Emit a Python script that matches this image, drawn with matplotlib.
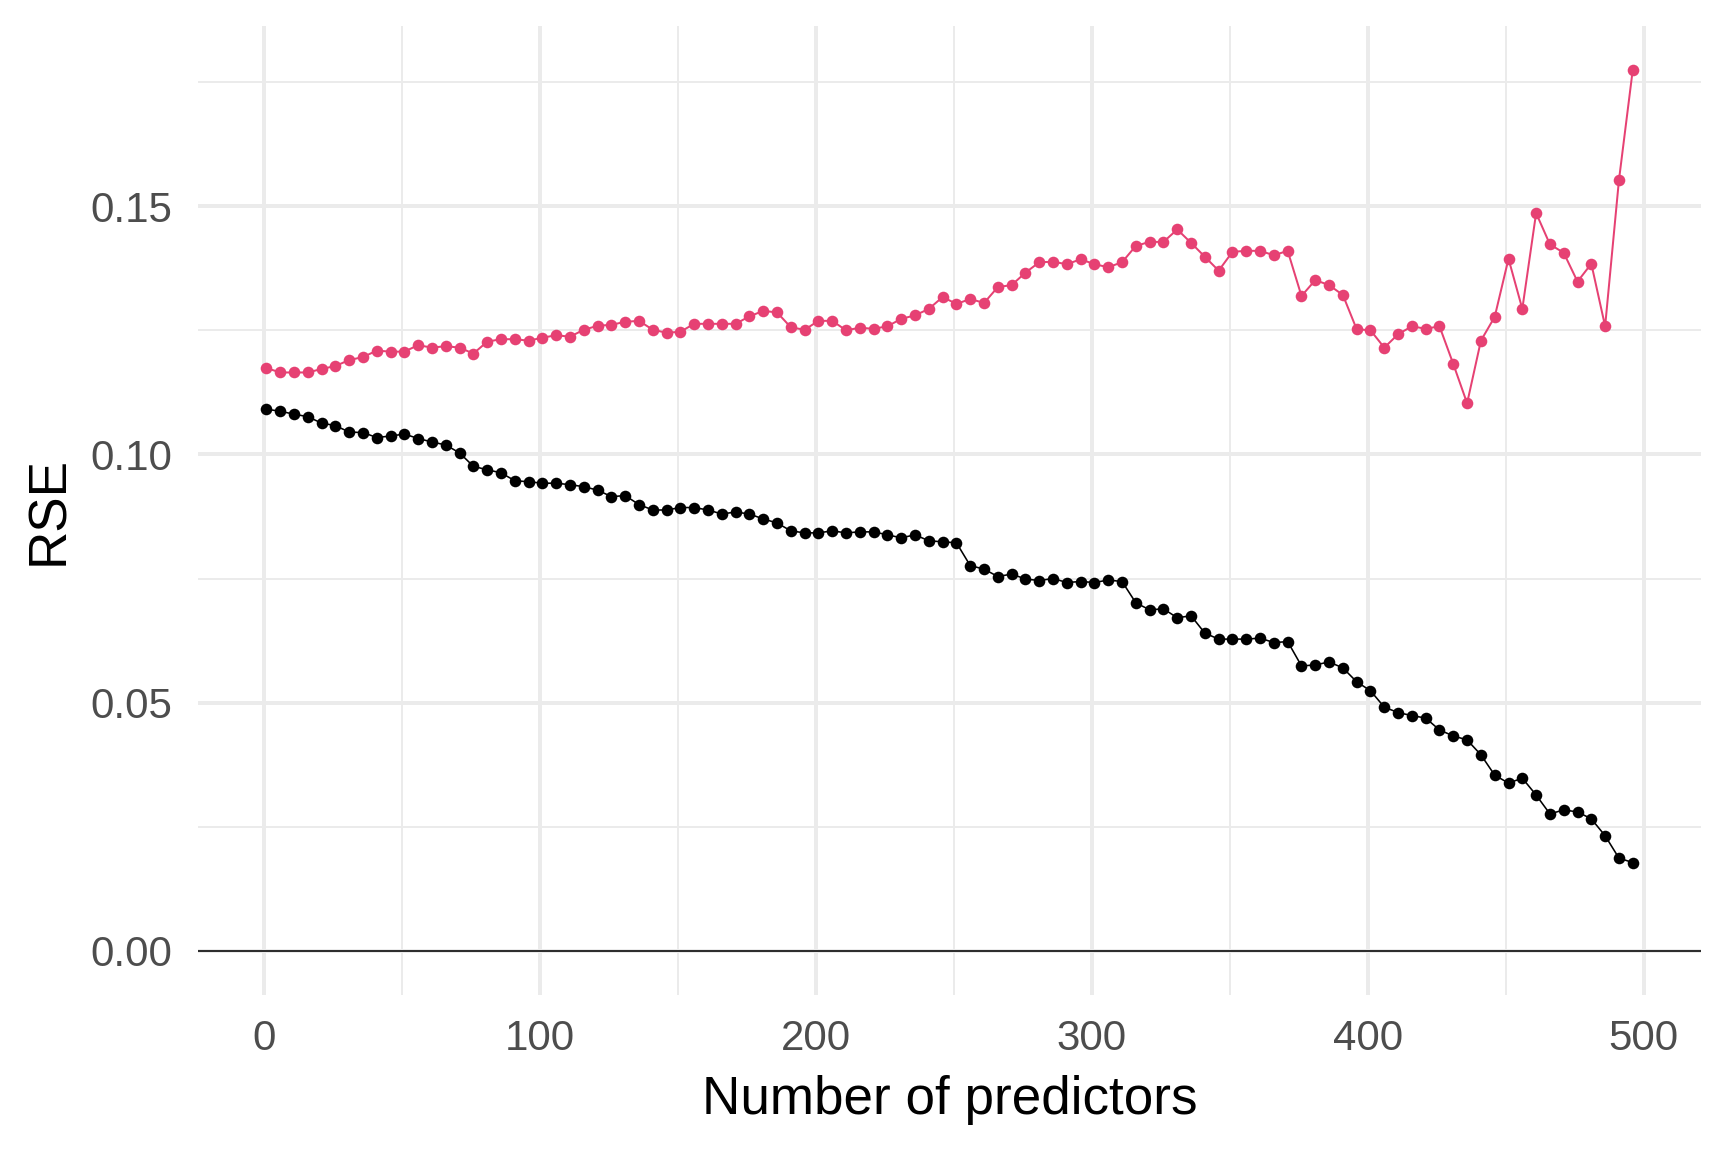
import numpy as np
import matplotlib
matplotlib.use("Agg")
import matplotlib.pyplot as plt

# DATA
n_predictors = list(range(1, 497, 5))

rse_test = [
    0.1174, 0.1165, 0.1165, 0.1165, 0.1172, 0.1178, 0.1190, 0.1196, 0.1209, 0.1207,
    0.1207, 0.1220, 0.1215, 0.1218, 0.1215, 0.1203, 0.1227, 0.1232, 0.1232, 0.1229,
    0.1235, 0.1240, 0.1237, 0.1251, 0.1259, 0.1261, 0.1267, 0.1269, 0.1251, 0.1245,
    0.1247, 0.1263, 0.1263, 0.1263, 0.1263, 0.1278, 0.1289, 0.1286, 0.1256, 0.1251,
    0.1269, 0.1269, 0.1250, 0.1255, 0.1253, 0.1258, 0.1273, 0.1280, 0.1293, 0.1317,
    0.1303, 0.1313, 0.1305, 0.1337, 0.1341, 0.1366, 0.1387, 0.1388, 0.1383, 0.1393,
    0.1383, 0.1377, 0.1387, 0.1420, 0.1428, 0.1428, 0.1453, 0.1426, 0.1398, 0.1370,
    0.1408, 0.1410, 0.1410, 0.1401, 0.1410, 0.1319, 0.1351, 0.1341, 0.1321, 0.1252,
    0.1250, 0.1215, 0.1242, 0.1258, 0.1253, 0.1258, 0.1182, 0.1103, 0.1229, 0.1277,
    0.1394, 0.1293, 0.1486, 0.1423, 0.1406, 0.1348, 0.1384, 0.1258, 0.1552, 0.1774,
]

rse_train = [
    0.1091, 0.1087, 0.1081, 0.1076, 0.1063, 0.1058, 0.1045, 0.1044, 0.1034, 0.1037,
    0.1041, 0.1032, 0.1025, 0.1019, 0.1003, 0.0976, 0.0969, 0.0963, 0.0947, 0.0945,
    0.0942, 0.0942, 0.0939, 0.0935, 0.0928, 0.0915, 0.0917, 0.0899, 0.0888, 0.0888,
    0.0893, 0.0893, 0.0888, 0.0880, 0.0884, 0.0880, 0.0870, 0.0862, 0.0846, 0.0842,
    0.0842, 0.0846, 0.0842, 0.0844, 0.0844, 0.0838, 0.0832, 0.0838, 0.0826, 0.0824,
    0.0822, 0.0776, 0.0769, 0.0754, 0.0759, 0.0749, 0.0746, 0.0750, 0.0742, 0.0744,
    0.0742, 0.0747, 0.0744, 0.0701, 0.0687, 0.0689, 0.0671, 0.0675, 0.0640, 0.0628,
    0.0628, 0.0628, 0.0630, 0.0621, 0.0623, 0.0574, 0.0576, 0.0582, 0.0570, 0.0542,
    0.0524, 0.0491, 0.0480, 0.0474, 0.0469, 0.0445, 0.0433, 0.0425, 0.0395, 0.0354,
    0.0338, 0.0348, 0.0314, 0.0276, 0.0284, 0.0280, 0.0266, 0.0232, 0.0187, 0.0178,
]

x_ticks = [0, 100, 200, 300, 400, 500]
y_ticks = [0.00, 0.05, 0.10, 0.15]

# STYLE
PINK = "#e64173"
GRID = "#ebebeb"
TICK_COL = "#4d4d4d"
plt.rcParams['font.family'] = ['Liberation Sans', 'DejaVu Sans']

fig = plt.figure(figsize=(12, 8), dpi=144)
ax = fig.add_axes([0.1146, 0.1363, 0.8698, 0.8411])

# ggplot-like 5% expansion of the data range (y range includes the hline at 0)
x_lo, x_hi = min(n_predictors), max(n_predictors)
y_lo, y_hi = 0.0, max(max(rse_test), max(rse_train))
ax.set_xlim(x_lo - 0.05 * (x_hi - x_lo), x_hi + 0.05 * (x_hi - x_lo))
ax.set_ylim(y_lo - 0.05 * (y_hi - y_lo), y_hi + 0.05 * (y_hi - y_lo))

# grid: major + minor (theme_minimal)
ax.set_xticks(x_ticks)
ax.set_yticks(y_ticks)
ax.set_xticks([50, 150, 250, 350, 450], minor=True)
ax.set_yticks([0.025, 0.075, 0.125, 0.175], minor=True)
ax.grid(True, which='major', color=GRID, linewidth=2.0, zorder=0)
ax.grid(True, which='minor', color=GRID, linewidth=1.0, zorder=0)
ax.set_axisbelow(True)

ax.axhline(0, color='black', linewidth=0.8, zorder=1)

ax.plot(n_predictors, rse_train, color='black', linewidth=0.8,
        marker='o', markersize=5.8, markeredgewidth=0, zorder=3)
ax.plot(n_predictors, rse_test, color=PINK, linewidth=1.0,
        marker='o', markersize=5.8, markeredgewidth=0, zorder=3)

ax.set_yticklabels([f"{v:.2f}" for v in y_ticks])
ax.tick_params(which='both', length=0)
ax.tick_params(axis='y', labelsize=21, labelcolor=TICK_COL, pad=13)
ax.tick_params(axis='x', labelsize=21, labelcolor=TICK_COL, pad=12)

for s in ax.spines.values():
    s.set_visible(False)

ax.set_xlabel("Number of predictors", fontsize=26.5, color='black', labelpad=8)
ax.set_ylabel("RSE", fontsize=26.5, color='black', labelpad=8)

fig.savefig("out.png", dpi=144, facecolor='white')
